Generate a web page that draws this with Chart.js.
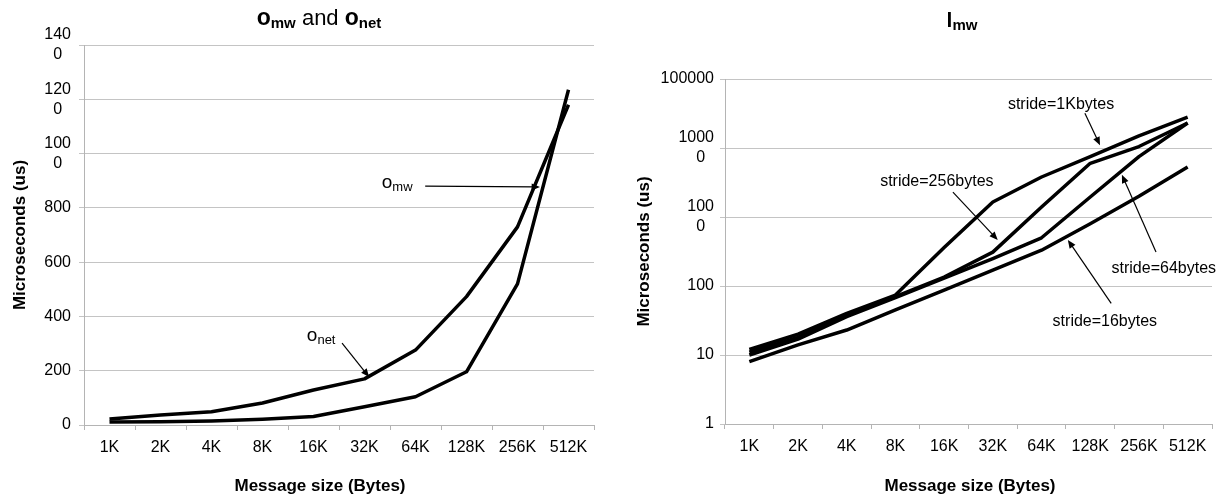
<!DOCTYPE html>
<html>
<head>
<meta charset="utf-8">
<script src="https://cdn.jsdelivr.net/npm/chart.js@4.4.1/dist/chart.umd.min.js"></script>
<style>
  body { margin: 0; background: #fff; }
  #wrap { position: relative; width: 1217px; height: 495px; }
  .box { position: absolute; top: 0; height: 495px; }
</style>
</head>
<body>
<div id="wrap">
  <div class="box" style="left:0;width:600px"><canvas id="left"></canvas></div>
  <div class="box" style="left:600px;width:617px"><canvas id="right"></canvas></div>
</div>
<script>
// message sizes (x categories, both charts)
var sizes = ['1K', '2K', '4K', '8K', '16K', '32K', '64K', '128K', '256K', '512K'];

// left chart: overheads in us
var omw  = [11, 12, 15, 21, 31, 67, 104, 196, 520, 1235];
var onet = [22, 37, 49, 81, 129, 170, 276, 473, 730, 1180];

// right chart: l_mw in us, per stride
var stride1K  = [12, 20, 40, 74, 360, 1650, 3800, 7500, 15000, 28000];
var stride256 = [11, 18, 38, 70, 135, 310, 1400, 6000, 10500, 23000];
var stride64  = [10, 17, 36, 68, 130, 250, 500, 1950, 7500, 23000];
var stride16  = [8, 14, 23, 45, 87, 170, 330, 800, 2000, 5300];

// tick values and their (wrapped) labels
var leftTicks = [0, 200, 400, 600, 800, 1000, 1200, 1400];
var leftTickLabels = ['0', '200', '400', '600', '800', ['100', '0'], ['120', '0'], ['140', '0']];
var rightTicks = [1, 10, 100, 1000, 10000, 100000];
var rightTickLabels = ['1', '10', '100', ['100', '0'], ['1000', '0'], '100000'];

var FONT = "'Liberation Sans', Arial, sans-serif";
Chart.defaults.font.family = FONT;
Chart.defaults.color = '#000';

function line(label, data) {
  return { label: label, data: data, borderColor: '#000', borderWidth: 3.5,
           pointRadius: 0, tension: 0, fill: false, borderJoinStyle: 'round' };
}

// wrapped labels: centre the short second line under the first
function wrapLabel(lbl) {
  if (!Array.isArray(lbl)) return lbl;
  var pad = Math.floor((lbl[0].length - lbl[1].length) / 2);
  return [lbl[0], lbl[1] + '  '.repeat(pad)];
}

function richText(ctx, parts, cx, base) {
  var w = 0;
  parts.forEach(function (p) {
    ctx.font = (p.bold ? 'bold ' : '') + p.size + 'px ' + FONT;
    p.w = ctx.measureText(p.t).width;
    w += p.w;
  });
  var x = cx - w / 2;
  ctx.textAlign = 'left';
  ctx.textBaseline = 'alphabetic';
  parts.forEach(function (p) {
    ctx.font = (p.bold ? 'bold ' : '') + p.size + 'px ' + FONT;
    ctx.fillText(p.t, x, base + (p.dy || 0));
    x += p.w;
  });
}

function arrow(ctx, x1, y1, x2, y2) {
  var a = Math.atan2(y2 - y1, x2 - x1), h = 9;
  ctx.strokeStyle = '#000';
  ctx.fillStyle = '#000';
  ctx.lineWidth = 1.2;
  ctx.beginPath();
  ctx.moveTo(x1, y1);
  ctx.lineTo(x2 - Math.cos(a) * h * 0.7, y2 - Math.sin(a) * h * 0.7);
  ctx.stroke();
  ctx.beginPath();
  ctx.moveTo(x2, y2);
  ctx.lineTo(x2 - h * Math.cos(a - 0.4), y2 - h * Math.sin(a - 0.4));
  ctx.lineTo(x2 - h * Math.cos(a + 0.4), y2 - h * Math.sin(a + 0.4));
  ctx.closePath();
  ctx.fill();
}

// titles, x axis title + annotations; annotation anchors are in data space
var overlay = {
  id: 'overlay',
  afterDraw: function (chart, args, opts) {
    var ctx = chart.ctx, xs = chart.scales.x, ys = chart.scales.y;
    ctx.save();
    ctx.fillStyle = '#000';
    richText(ctx, opts.title, opts.titleX, opts.titleY);
    richText(ctx, [{ t: 'Message size (Bytes)', size: 17, bold: true }], opts.xTitleX, 491);
    (opts.notes || []).forEach(function (n) {
      var px = xs.getPixelForValue(n.at[0]), py = ys.getPixelForValue(n.at[1]);
      ctx.fillStyle = '#000';
      richText(ctx, n.text, px, py + 6);
      arrow(ctx, xs.getPixelForValue(n.from[0]), ys.getPixelForValue(n.from[1]),
                 xs.getPixelForValue(n.to[0]), ys.getPixelForValue(n.to[1]));
    });
    ctx.restore();
  }
};

function xScale(h) {
  return {
    offset: true,
    grid: { offset: true, drawOnChartArea: false, drawTicks: true, tickLength: 5, color: '#b4b4b4' },
    border: { color: '#b4b4b4' },
    ticks: { padding: 8, autoSkip: false, maxRotation: 0, font: { size: 16 } },
    afterFit: function (s) { s.height = h; }
  };
}

new Chart(document.getElementById('left'), {
  type: 'line',
  data: { labels: sizes, datasets: [line('omw', omw), line('onet', onet)] },
  options: {
    responsive: true, maintainAspectRatio: false, animation: false,
    layout: { padding: { left: 0, top: 45, right: 6, bottom: 0 } },
    plugins: {
      legend: { display: false }, tooltip: { enabled: false },
      overlay: {
        titleX: 319, titleY: 25, xTitleX: 320,
        title: [{ t: 'o', size: 23, bold: true }, { t: 'mw', size: 15, bold: true, dy: 3 },
                { t: ' and ', size: 22 },
                { t: 'o', size: 23, bold: true }, { t: 'net', size: 15, bold: true, dy: 3 }],
        notes: [
          { text: [{ t: 'o', size: 19 }, { t: 'mw', size: 13, dy: 3 }], at: [5.64, 895],
            from: [6.19, 880], to: [8.44, 877] },
          { text: [{ t: 'o', size: 19 }, { t: 'net', size: 13, dy: 3 }], at: [4.15, 332],
            from: [4.56, 302], to: [5.09, 177] }
        ]
      }
    },
    scales: {
      x: xScale(70),
      y: {
        min: 0, max: 1400,
        afterBuildTicks: function (s) { s.ticks = leftTicks.map(function (v) { return { value: v }; }); },
        grid: { color: '#c4c4c4', tickLength: 5 },
        border: { color: '#b4b4b4' },
        ticks: { padding: 8, font: { size: 16, lineHeight: 1.25 },
                 callback: function (v) { return wrapLabel(leftTickLabels[leftTicks.indexOf(v)]); } },
        title: { display: true, text: 'Microseconds (us)', font: { size: 17, weight: 'bold' },
                 padding: { top: 10, bottom: 0 } },
        afterFit: function (s) { s.width = 84; }
      }
    }
  },
  plugins: [overlay]
});

new Chart(document.getElementById('right'), {
  type: 'line',
  data: { labels: sizes, datasets: [line('stride=1Kbytes', stride1K), line('stride=256bytes', stride256),
                                    line('stride=64bytes', stride64), line('stride=16bytes', stride16)] },
  options: {
    responsive: true, maintainAspectRatio: false, animation: false,
    layout: { padding: { left: 24, top: 79, right: 5, bottom: 0 } },
    plugins: {
      legend: { display: false }, tooltip: { enabled: false },
      overlay: {
        titleX: 362, titleY: 27, xTitleX: 370,
        title: [{ t: 'l', size: 21, bold: true }, { t: 'mw', size: 15, bold: true, dy: 3 }],
        notes: [
          { text: [{ t: 'stride=1Kbytes', size: 16 }], at: [6.40, 45000], from: [6.89, 32000], to: [7.2, 11000] },
          { text: [{ t: 'stride=256bytes', size: 16 }], at: [3.85, 3450], from: [4.18, 2300], to: [5.1, 465] },
          { text: [{ t: 'stride=64bytes', size: 16 }], at: [8.51, 190], from: [8.35, 310], to: [7.65, 4100] },
          { text: [{ t: 'stride=16bytes', size: 16 }], at: [7.30, 32], from: [7.43, 56], to: [6.54, 465] }
        ]
      }
    },
    scales: {
      x: xScale(71),
      y: {
        type: 'logarithmic', min: 1, max: 100000,
        afterBuildTicks: function (s) { s.ticks = rightTicks.map(function (v) { return { value: v }; }); },
        grid: { color: '#c4c4c4', tickLength: 5 },
        border: { color: '#b4b4b4' },
        ticks: { padding: 6, font: { size: 16, lineHeight: 1.25 },
                 callback: function (v) { return wrapLabel(rightTickLabels[rightTicks.indexOf(v)]); } },
        title: { display: true, text: 'Microseconds (us)', font: { size: 17, weight: 'bold' },
                 padding: { top: 10, bottom: 0 } },
        afterFit: function (s) { s.width = 101; }
      }
    }
  },
  plugins: [overlay]
});
</script>
</body>
</html>
